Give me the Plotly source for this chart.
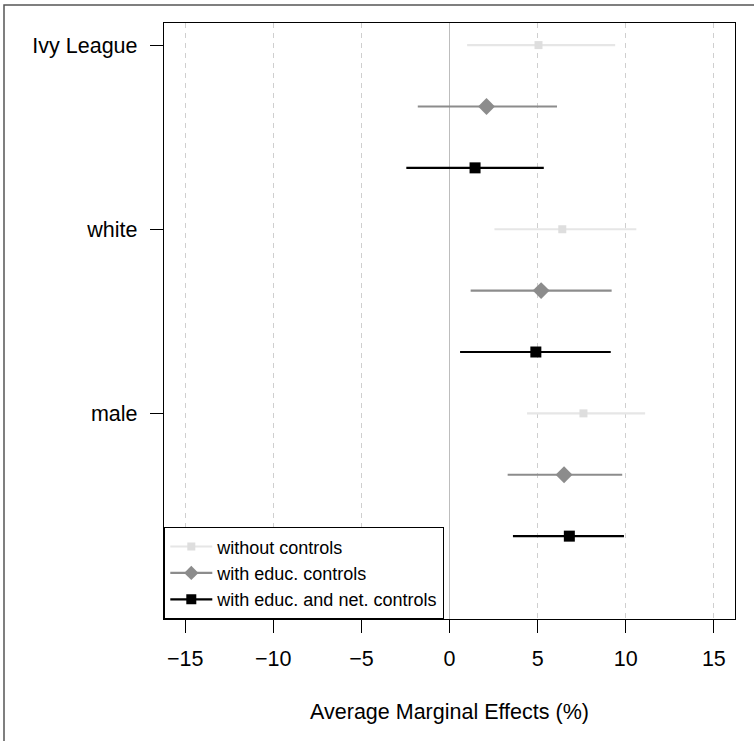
import plotly.graph_objects as go

# ---- data ----
categories = ["Ivy League", "white", "male"]
series_names = ["without controls", "with educ. controls", "with educ. and net. controls"]

est_none = [5.05, 6.40, 7.60]
lo_none = [1.00, 2.55, 4.40]
hi_none = [9.40, 10.60, 11.10]

est_educ = [2.10, 5.20, 6.50]
lo_educ = [-1.80, 1.20, 3.30]
hi_educ = [6.10, 9.20, 9.80]

est_net = [1.45, 4.90, 6.80]
lo_net = [-2.45, 0.60, 3.60]
hi_net = [5.35, 9.15, 9.90]

x_ticks = [-15, -10, -5, 0, 5, 10, 15]

# ---- styles ----
styles = [
    dict(line="#e6e6e6", marker="#dedede", symbol="square", size=8, lsize=8),
    dict(line="#8c8c8c", marker="#8c8c8c", symbol="diamond", size=13, lsize=11),
    dict(line="#000000", marker="#000000", symbol="square", size=11, lsize=10),
]
series = [
    (est_none, lo_none, hi_none),
    (est_educ, lo_educ, hi_educ),
    (est_net, lo_net, hi_net),
]

fig = go.Figure()
n_series = len(series)
for s, ((est, lo, hi), st, name) in enumerate(zip(series, styles, series_names)):
    ys = [g * n_series + s for g in range(len(categories))]
    lx, ly = [], []
    for l, h, y in zip(lo, hi, ys):
        lx += [l, h, None]
        ly += [y, y, None]
    fig.add_trace(go.Scatter(x=lx, y=ly, mode="lines",
                             line=dict(color=st["line"], width=2.2),
                             showlegend=False, hoverinfo="skip"))
    fig.add_trace(go.Scatter(x=est, y=ys, mode="markers",
                             marker=dict(symbol=st["symbol"], size=st["size"],
                                         color=st["marker"], line=dict(width=0)),
                             showlegend=False))
    # legend entry
    fig.add_trace(go.Scatter(x=[None], y=[None], mode="lines+markers", name=name,
                             line=dict(color=st["line"], width=2.2),
                             marker=dict(symbol=st["symbol"], size=st["lsize"],
                                         color=st["marker"], line=dict(width=0))))

W, H = 754, 741
L, R, T, B = 164, 19, 23, 122
pw, ph = W - L - R, H - T - B

fig.update_layout(
    width=W, height=H,
    margin=dict(l=L, r=R, t=T, b=B),
    paper_bgcolor="white", plot_bgcolor="white",
    font=dict(family="Liberation Sans, Arial, sans-serif", size=21, color="black"),
    xaxis=dict(range=[-16.2, 16.2], tickvals=x_ticks,
               ticktext=[("\u2212" + str(-v)) if v < 0 else str(v) for v in x_ticks],
               showgrid=True, gridcolor="#cfcfcf", gridwidth=1, griddash="5px,5px",
               zeroline=True, zerolinecolor="#bdbdbd", zerolinewidth=1.3,
               showline=True, linecolor="black", linewidth=1.3, mirror=True,
               ticks="outside", ticklen=13, tickcolor="black", tickwidth=1,
               ticklabelstandoff=7,
               title=dict(text="Average Marginal Effects (%)", standoff=33,
                          font=dict(size=21.5)),
               tickfont=dict(size=21.5)),
    yaxis=dict(range=[9.35, -0.36], tickvals=[g * n_series for g in range(len(categories))],
               ticktext=categories, showgrid=False, zeroline=False,
               showline=True, linecolor="black", linewidth=1.3, mirror=True,
               ticks="outside", ticklen=13, tickcolor="black", tickwidth=1,
               tickfont=dict(size=21.5), ticklabelstandoff=8),
    legend=dict(x=0, y=0, xanchor="left", yanchor="bottom",
                bordercolor="black", borderwidth=1.3, bgcolor="white",
                font=dict(size=18), tracegroupgap=0, itemwidth=42),
    showlegend=True,
)

# outer frame
fig.add_shape(type="rect", xref="paper", yref="paper",
              x0=(4 - L) / pw, x1=(W + 10 - L) / pw,
              y0=-(H + 10 - T - ph) / ph, y1=1 + (T - 5) / ph,
              line=dict(color="#555555", width=1.5), layer="below")

fig.write_html("out.html", config={"displayModeBar": False},
               post_script="document.body.style.margin='0px';")
